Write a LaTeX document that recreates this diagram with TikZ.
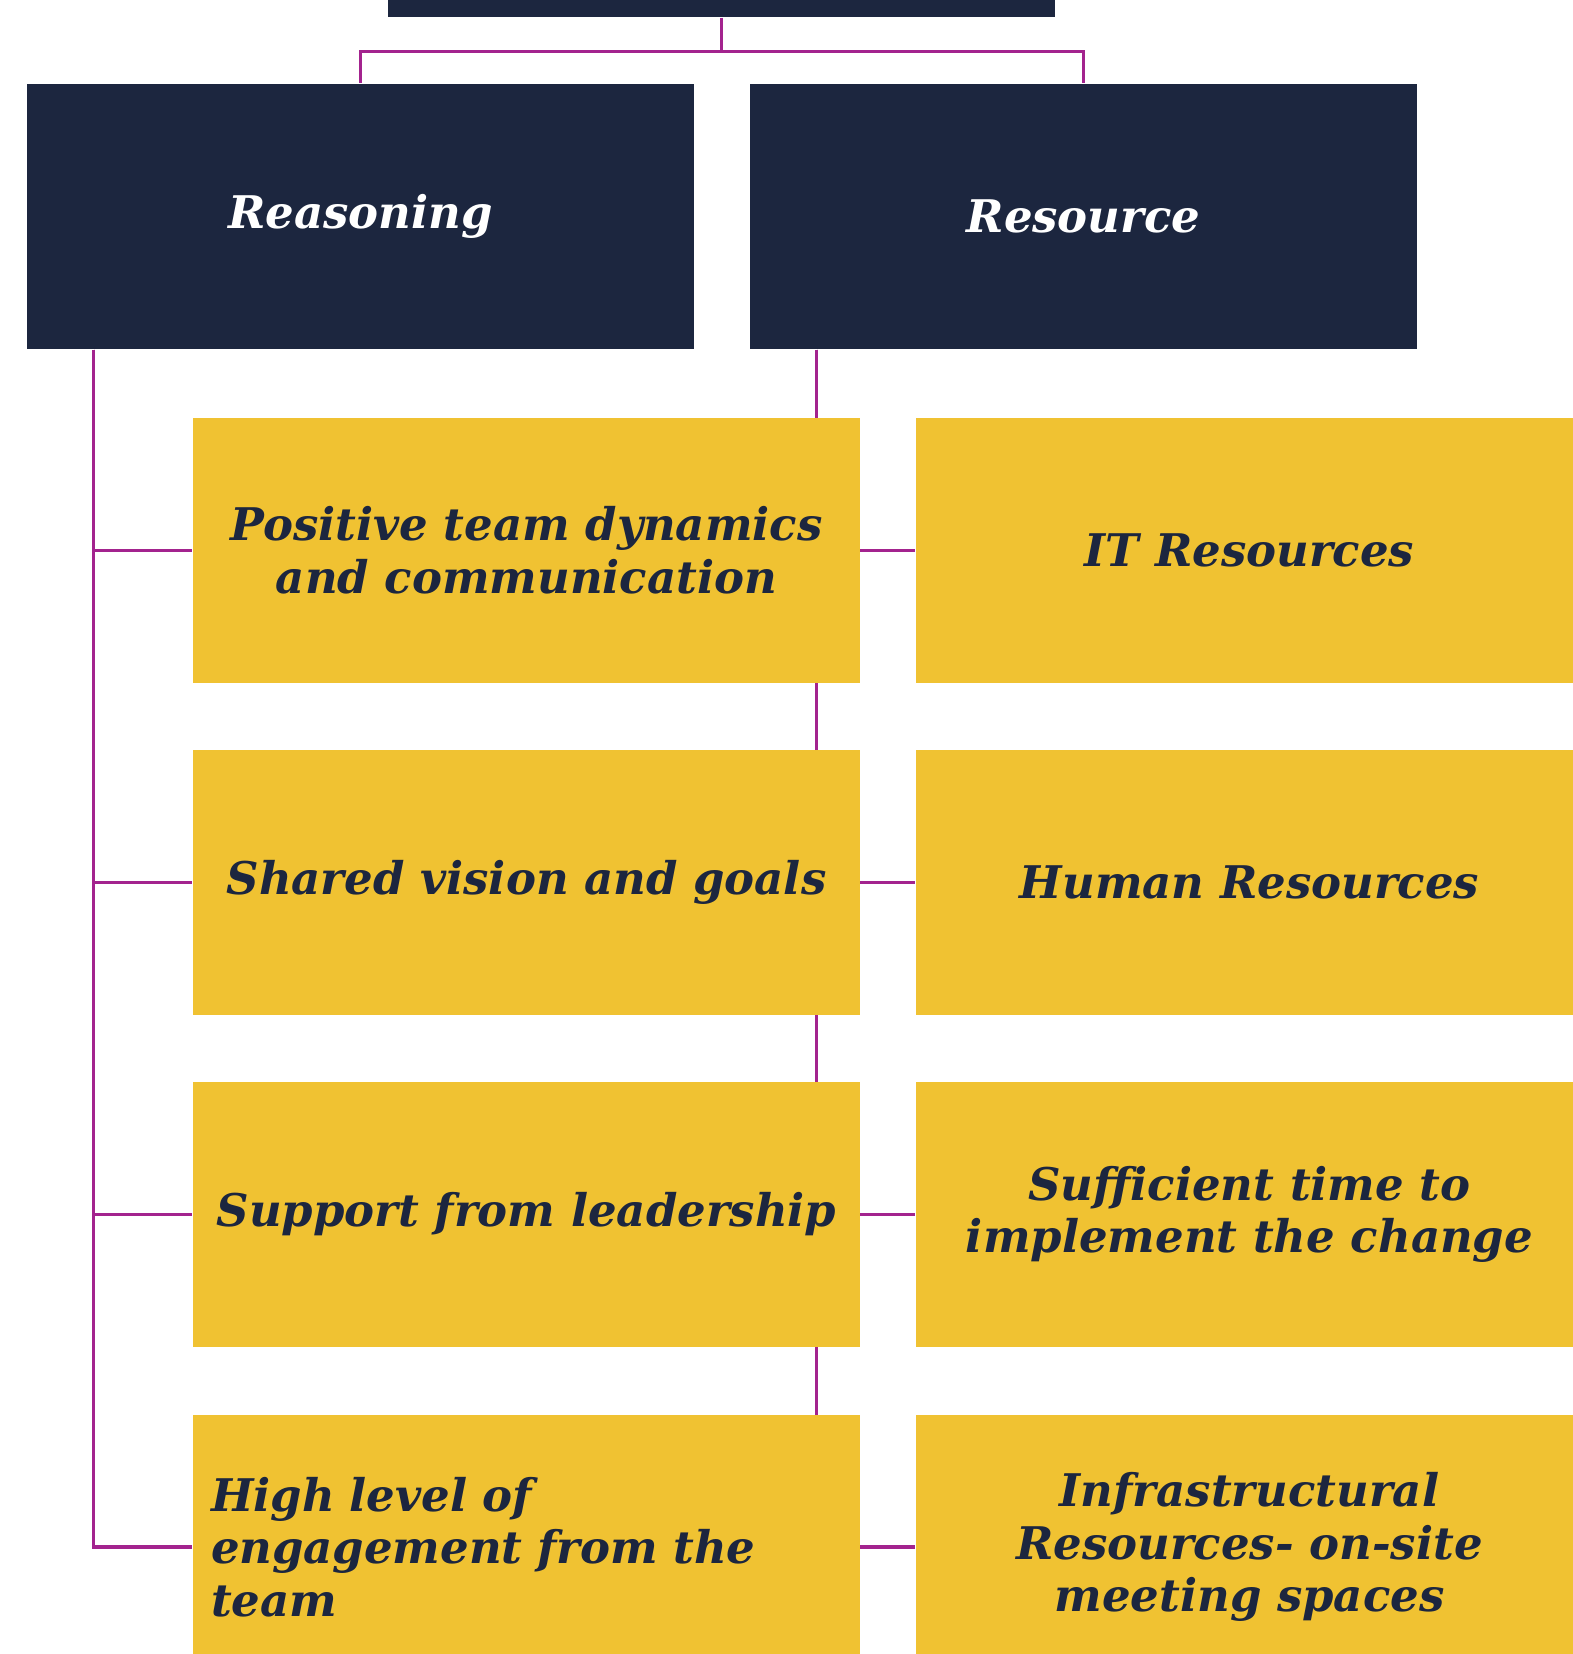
\documentclass[tikz,border=0pt]{standalone}
\usepackage{fontspec}
\setmainfont{DejaVu Serif}
\usetikzlibrary{backgrounds}
\definecolor{navy}{HTML}{1C263F}
\definecolor{gold}{HTML}{F0C232}
\definecolor{plum}{HTML}{A3238E}
\begin{document}
\begin{tikzpicture}[
    head/.style={fill=navy, text=white, minimum width=6.67cm, minimum height=2.65cm,
      inner sep=0pt, font=\fontsize{12.8}{15}\selectfont\bfseries\itshape, align=center},
    item/.style={fill=gold, text=navy, minimum width=6.67cm, minimum height=2.65cm,
      inner sep=0pt, font=\fontsize{12.8}{15}\selectfont\bfseries\itshape, align=center},
    link/.style={draw=plum, line width=1pt}
  ]
     \useasboundingbox (0,0) rectangle (15.72,-16.54);

     \node[head] (top) at (7.215,1.155) {};
     \node[head] (reasoning) at (3.605,-2.165) {Reasoning};
     \node[head] (resource) at (10.835,-2.165) {Resource};

     \node[item] (l1) at (5.265,-5.505) {Positive team dynamics\\and communication};
     \node[item] (l2) at (5.265,-8.825) {Shared vision and goals};
     \node[item] (l3) at (5.265,-12.145) {Support from leadership};
     \node[item, align=left, text width=6.31cm, inner xsep=0.18cm] (l4) at (5.265,-15.47)
       {High level of\\engagement from the\\team};

     \node[item] (r1) at (12.495,-5.505) {IT Resources};
     \node[item] (r2) at (12.495,-8.825) {Human Resources};
     \node[item] (r3) at (12.495,-12.145) {Sufficient time to\\implement the change};
     \node[item] (r4) at (12.495,-15.47) {Infrastructural\\Resources- on-site\\meeting spaces};

     \begin{scope}[on background layer]
     \draw[link] (top.south) -- ++(0,-0.34) coordinate (hub);
     \draw[link] (hub) -| (reasoning);
     \draw[link] (hub) -| (resource);
     \foreach \i in {1,...,4} {
       \draw[link] ([xshift=6.7mm]reasoning.south west) |- (l\i.west);
       \draw[link] ([xshift=6.7mm]resource.south west) |- (r\i.west);
     }
     \end{scope}
    \end{tikzpicture}
\end{document}
